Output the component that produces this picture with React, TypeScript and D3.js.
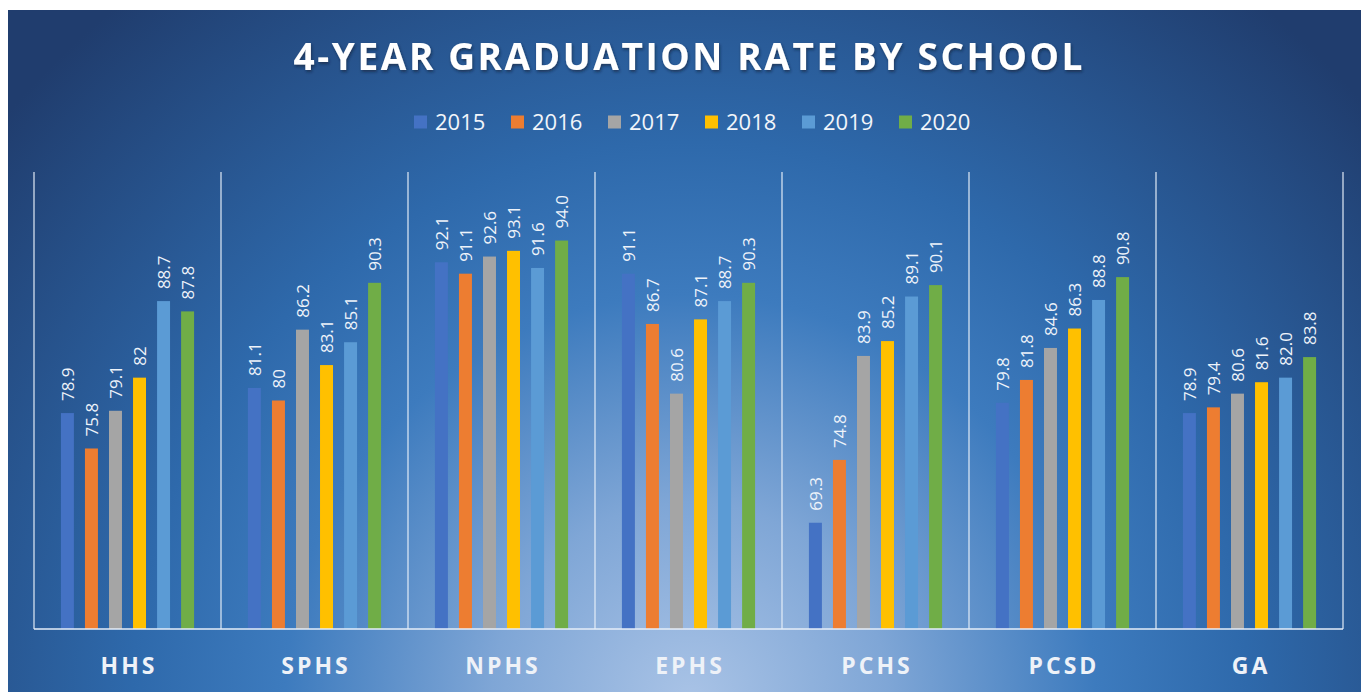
import { useRef, useEffect } from "react";
import * as d3 from "d3";

const schools = ["HHS", "SPHS", "NPHS", "EPHS", "PCHS", "PCSD", "GA"];
const years = ["2015", "2016", "2017", "2018", "2019", "2020"];
const colors = ["#4472C4", "#ED7D31", "#A5A5A5", "#FFC000", "#5B9BD5", "#70AD47"];

// values kept as printed on the chart (some without a decimal)
const rate2015 = ["78.9", "81.1", "92.1", "91.1", "69.3", "79.8", "78.9"];
const rate2016 = ["75.8", "80", "91.1", "86.7", "74.8", "81.8", "79.4"];
const rate2017 = ["79.1", "86.2", "92.6", "80.6", "83.9", "84.6", "80.6"];
const rate2018 = ["82", "83.1", "93.1", "87.1", "85.2", "86.3", "81.6"];
const rate2019 = ["88.7", "85.1", "91.6", "88.7", "89.1", "88.8", "82.0"];
const rate2020 = ["87.8", "90.3", "94.0", "90.3", "90.1", "90.8", "83.8"];
const series = [rate2015, rate2016, rate2017, rate2018, rate2019, rate2020];

const yDomain: [number, number] = [60, 100];

const W = 1361;
const H = 684;

export default function App() {
  const ref = useRef<SVGSVGElement>(null);

  useEffect(() => {
    if (!ref.current) return;
    const svg = d3.select(ref.current);
    svg.selectAll("*").remove();

    // page coordinates (body margin 8px)
    const root = svg.append("g").attr("transform", "translate(-8,-8)");

    const defs = svg.append("defs");
    const grad = defs
      .append("radialGradient")
      .attr("id", "bg")
      .attr("gradientUnits", "userSpaceOnUse")
      .attr("cx", 690)
      .attr("cy", 700)
      .attr("r", 900);
    [
      [0, "#a9c3e6"],
      [0.22, "#7fa6d6"],
      [0.45, "#3d7bbe"],
      [0.62, "#2e69ab"],
      [1, "#203d6e"],
    ].forEach(([o, c]) =>
      grad.append("stop").attr("offset", o as number).attr("stop-color", c as string),
    );
    const shadow = defs.append("filter").attr("id", "shadow");
    shadow
      .append("feDropShadow")
      .attr("dx", 1)
      .attr("dy", 2)
      .attr("stdDeviation", 1.5)
      .attr("flood-color", "#0a1a33")
      .attr("flood-opacity", 0.6);

    root
      .append("rect")
      .attr("x", 8)
      .attr("y", 10)
      .attr("width", 1361)
      .attr("height", 682)
      .attr("fill", "url(#bg)");

    const font = "'Open Sans', sans-serif";

    // Title
    root
      .append("text")
      .attr("x", 688)
      .attr("y", 70)
      .attr("text-anchor", "middle")
      .attr("fill", "#fff")
      .attr("font-family", font)
      .attr("font-weight", 700)
      .attr("font-size", 37)
      .attr("textLength", 789)
      .attr("lengthAdjust", "spacing")
      .attr("filter", "url(#shadow)")
      .text("4-YEAR GRADUATION RATE BY SCHOOL");

    // Legend
    const legend = root.append("g").attr("transform", "translate(414,122)");
    years.forEach((yr, i) => {
      const g = legend.append("g").attr("transform", `translate(${i * 97},0)`);
      g.append("rect")
        .attr("x", 0)
        .attr("y", -6.5)
        .attr("width", 13)
        .attr("height", 13)
        .attr("fill", colors[i]);
      g.append("text")
        .attr("x", 21)
        .attr("y", 8)
        .attr("fill", "#f2f5fa")
        .attr("font-family", font)
        .attr("font-size", 22)
        .text(yr);
    });

    // Scales
    const x0 = d3.scaleBand<string>().domain(schools).range([34, 1343]);
    const x1 = d3
      .scaleBand<string>()
      .domain(years)
      .range([0, x0.bandwidth()])
      .paddingInner(0.46)
      .paddingOuter(1.12);
    const y = d3.scaleLinear().domain(yDomain).range([629, 172]);

    // Separators
    const seps = [...schools.map((s) => x0(s) as number), 1343];
    root
      .append("g")
      .selectAll("line")
      .data(seps)
      .join("line")
      .attr("x1", (d) => d)
      .attr("x2", (d) => d)
      .attr("y1", 172)
      .attr("y2", 629)
      .attr("stroke", "#e6eef8")
      .attr("stroke-opacity", 0.9)
      .attr("stroke-width", 1.3);

    // Bars + labels
    schools.forEach((s, si) => {
      const g = root.append("g").attr("transform", `translate(${x0(s)},0)`);
      years.forEach((yr, yi) => {
        const v = +series[yi][si];
        const bx = x1(yr) as number;
        g.append("rect")
          .attr("x", bx)
          .attr("y", y(v))
          .attr("width", x1.bandwidth())
          .attr("height", y(yDomain[0]) - y(v))
          .attr("fill", colors[yi]);
        const cx = bx + x1.bandwidth() / 2;
        g.append("text")
          .attr("transform", `translate(${cx},${y(v) - 12}) rotate(-90)`)
          .attr("dy", "0.36em")
          .attr("fill", "#eef3fa")
          .attr("font-family", font)
          .attr("font-size", 17)
          .text(series[yi][si]);
      });
    });

    // Baseline
    root
      .append("line")
      .attr("x1", 34)
      .attr("x2", 1343)
      .attr("y1", 629)
      .attr("y2", 629)
      .attr("stroke", "#e6eef8")
      .attr("stroke-width", 1.3);

    // Category labels
    root
      .append("g")
      .selectAll("text")
      .data(schools)
      .join("text")
      .attr("x", (d) => (x0(d) as number) + x0.bandwidth() / 2 + 1.5)
      .attr("y", 674)
      .attr("text-anchor", "middle")
      .attr("fill", "#eef2f8")
      .attr("font-family", font)
      .attr("font-weight", 700)
      .attr("font-size", 23)
      .attr("letter-spacing", 3)
      .text((d) => d);
  }, []);

  return <svg ref={ref} width={W} height={H} style={{ display: "block" }} />;
}
